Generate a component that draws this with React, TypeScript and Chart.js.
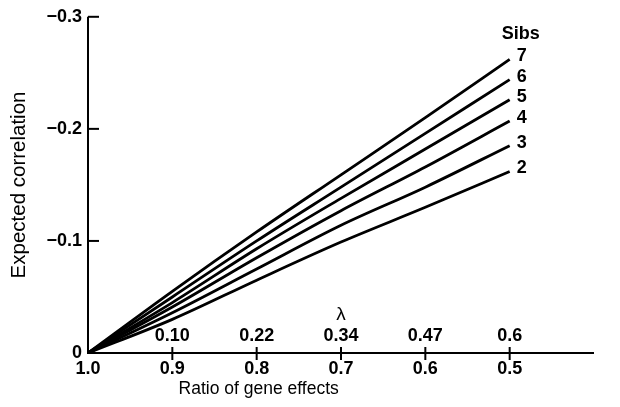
import React, { useEffect, useRef } from "react";
import { Chart, registerables } from "chart.js";

Chart.register(...registerables);

const ratio = [1.0, 0.9, 0.8, 0.7, 0.6, 0.5];
const sibs7 = [0, -0.055, -0.108, -0.159, -0.21, -0.262];
const sibs6 = [0, -0.05, -0.1, -0.148, -0.196, -0.244];
const sibs5 = [0, -0.045, -0.093, -0.138, -0.182, -0.226];
const sibs4 = [0, -0.041, -0.085, -0.127, -0.166, -0.207];
const sibs3 = [0, -0.036, -0.075, -0.114, -0.148, -0.185];
const sibs2 = [0, -0.03, -0.065, -0.099, -0.13, -0.162];
const seriesNames = ["7", "6", "5", "4", "3", "2"];
const seriesValues = [sibs7, sibs6, sibs5, sibs4, sibs3, sibs2];
const xTicks = [1.0, 0.9, 0.8, 0.7, 0.6, 0.5];
const yTicks = [-0.3, -0.2, -0.1, 0];
const lambdaAt = [0.9, 0.8, 0.7, 0.6, 0.5];
const lambdaLabels = ["0.10", "0.22", "0.34", "0.47", "0.6"];

const FONT = "'Liberation Sans', Arial, Helvetica, sans-serif";

export default function App() {
  const ref = useRef<HTMLCanvasElement | null>(null);
  useEffect(() => {
    document.body.style.margin = "0";
    const canvas = ref.current;
    if (!canvas) return;
    const overlay = {
      id: "overlay",
      afterDraw(chart: any) {
        const ctx = chart.ctx;
        const xs = chart.scales.x;
        const ys = chart.scales.y;
        const area = chart.chartArea;
        ctx.save();
        ctx.strokeStyle = "#000";
        ctx.lineWidth = 2;
        ctx.beginPath();
        ctx.moveTo(area.left, area.top);
        ctx.lineTo(area.left, area.bottom);
        ctx.lineTo(area.right, area.bottom);
        ctx.stroke();
        for (const v of yTicks) {
          if (v === 0) continue;
          const y = ys.getPixelForValue(v);
          ctx.beginPath();
          ctx.moveTo(area.left, y);
          ctx.lineTo(area.left + 11, y);
          ctx.stroke();
        }
        for (const v of xTicks) {
          if (v === 1.0) continue;
          const x = xs.getPixelForValue(v);
          ctx.beginPath();
          ctx.moveTo(x, area.bottom - 6);
          ctx.lineTo(x, area.bottom + 7);
          ctx.stroke();
        }
        ctx.fillStyle = "#000";
        ctx.textAlign = "center";
        ctx.textBaseline = "middle";
        ctx.font = "bold 18px " + FONT;
        lambdaAt.forEach((v, i) => {
          ctx.fillText(lambdaLabels[i], xs.getPixelForValue(v), area.bottom - 17);
        });
        ctx.font = "19px " + FONT;
        ctx.fillText("λ", xs.getPixelForValue(0.7), area.bottom - 38);
        ctx.font = "17.5px " + FONT;
        ctx.fillText("Ratio of gene effects", xs.getPixelForValue(0.8) + 2, 389);
        ctx.save();
        ctx.translate(19, 185);
        ctx.rotate(-Math.PI / 2);
        ctx.font = "20.5px " + FONT;
        ctx.fillText("Expected correlation", 0, 0);
        ctx.restore();
        ctx.font = "bold 18px " + FONT;
        ctx.textAlign = "left";
        seriesValues.forEach((vals, i) => {
          const last = vals.length - 1;
          const x = xs.getPixelForValue(ratio[last]) + 7;
          const y = ys.getPixelForValue(vals[last]) - 3;
          ctx.fillText(seriesNames[i], x, y);
        });
        ctx.fillText("Sibs", xs.getPixelForValue(0.5) - 8, ys.getPixelForValue(sibs7[5]) - 25);
        ctx.restore();
      },
    };
    const chart = new Chart(canvas, {
      type: "line",
      data: {
        datasets: seriesValues.map((vals, i) => ({
          label: seriesNames[i],
          data: vals.map((v, j) => ({ x: ratio[j], y: v })),
          borderColor: "#000",
          borderWidth: 2.8,
          pointRadius: 0,
          fill: false,
          cubicInterpolationMode: "monotone" as const,
        })),
      },
      options: {
        responsive: false,
        animation: false,
        events: [],
        layout: { padding: { left: 8, top: 16, right: 26, bottom: 0 } },
        plugins: { legend: { display: false }, tooltip: { enabled: false } },
        scales: {
          x: {
            type: "linear",
            min: 0.4,
            max: 1.0,
            reverse: true,
            border: { display: false },
            grid: { display: false, drawTicks: false },
            afterBuildTicks: (s: any) => {
              s.ticks = xTicks.map((v) => ({ value: v }));
            },
            afterFit: (s: any) => {
              s.height = 54;
            },
            ticks: {
              color: "#000",
              padding: 5,
              maxRotation: 0,
              autoSkip: false,
              font: { family: FONT, size: 18, weight: "bold" },
              callback: (v: any) => Number(v).toFixed(1),
            },
          },
          y: {
            type: "linear",
            min: -0.3,
            max: 0,
            reverse: true,
            border: { display: false },
            grid: { display: false, drawTicks: false },
            afterBuildTicks: (s: any) => {
              s.ticks = yTicks.map((v) => ({ value: v }));
            },
            afterFit: (s: any) => {
              s.width = 80;
            },
            ticks: {
              color: "#000",
              padding: 6,
              autoSkip: false,
              font: { family: FONT, size: 18, weight: "bold" },
              callback: (v: any) => (Number(v) === 0 ? "0" : "\u2212" + Math.abs(Number(v)).toFixed(1)),
            },
          },
        },
      },
      plugins: [overlay],
    });
    return () => chart.destroy();
  }, []);
  return (
    <div style={{ width: 620, height: 407, background: "#fff" }}>
      <canvas ref={ref} width={620} height={407} />
    </div>
  );
}
